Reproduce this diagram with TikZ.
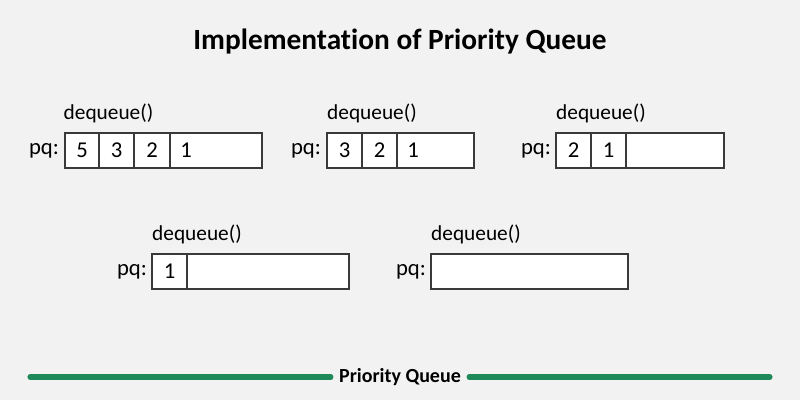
\documentclass[tikz,border=0pt]{standalone}
\usepackage{fontspec}
\setmainfont{Carlito}[Ligatures=NoCommon]
\definecolor{bg}{HTML}{F2F2F2}
\definecolor{pqgreen}{HTML}{1E8A5A}
\definecolor{edge}{HTML}{3A3A3A}
\begin{document}
\begin{tikzpicture}[x=0.75pt,y=-0.75pt,
  cellbox/.style={draw=edge,line width=0.8pt,fill=white,minimum height=26.25pt,inner sep=0pt,outer sep=0pt},
  num/.style={font=\fontsize{17}{19}\selectfont,inner sep=0pt},
  lbl/.style={font=\fontsize{17}{19}\selectfont,inner sep=0pt},
  opname/.style={font=\fontsize{16}{18}\selectfont,inner sep=0pt}]
\useasboundingbox[fill=bg] (0,0) rectangle (800,400);
\node[font=\bfseries\fontsize{22}{24}\selectfont] (title) at (400,42) {Implementation of Priority Queue};
% row 1, box 1
\node[opname] (op1) at (108.5,113) {dequeue()};
\node[lbl] (pq1) at (44,151) {pq:};
\node[cellbox,minimum width=25.5pt] (a1) at (82,150.5) {};
\node[cellbox,minimum width=26.25pt] (a2) at (116.5,150.5) {};
\node[cellbox,minimum width=27pt] (a3) at (152,150.5) {};
\node[cellbox,minimum width=69pt] (a4) at (216,150.5) {};
\node[num] (n11) at (a1) {5};
\node[num] (n12) at (a2) {3};
\node[num] (n13) at (a3) {2};
\node[num] (n14) at (186,150.5) {1};
% box 2
\node[opname] (op2) at (372,113) {dequeue()};
\node[lbl] (pq2) at (306,151) {pq:};
\node[cellbox,minimum width=26.25pt] (b1) at (344.5,150.5) {};
\node[cellbox,minimum width=26.25pt] (b2) at (379.5,150.5) {};
\node[cellbox,minimum width=57.75pt] (b3) at (435.5,150.5) {};
\node[num] (n21) at (b1) {3};
\node[num] (n22) at (b2) {2};
\node[num] (n23) at (413,150.5) {1};
% box 3
\node[opname] (op3) at (601,113) {dequeue()};
\node[lbl] (pq3) at (536,151) {pq:};
\node[cellbox,minimum width=26.25pt] (c1) at (573.5,150.5) {};
\node[cellbox,minimum width=26.25pt] (c2) at (608.5,150.5) {};
\node[cellbox,minimum width=73.5pt] (c3) at (675,150.5) {};
\node[num] (n31) at (c1) {2};
\node[num] (n32) at (c2) {1};
% box 4
\node[opname] (op4) at (197,234) {dequeue()};
\node[lbl] (pq4) at (132,272) {pq:};
\node[cellbox,minimum width=26.25pt] (d1) at (169.5,271.5) {};
\node[cellbox,minimum width=121.5pt] (d2) at (268,271.5) {};
\node[num] (n41) at (d1) {1};
% box 5
\node[opname] (op5) at (476,234) {dequeue()};
\node[lbl] (pq5) at (411,272) {pq:};
\node[cellbox,minimum width=147.75pt] (e1) at (529.5,271.5) {};
% footer
\node[font=\bfseries\fontsize{15}{17}\selectfont,inner sep=0pt] (foot) at (400,377) {Priority Queue};
\coordinate (fl) at (30,377);
\coordinate (fr) at (770,377);
\draw[pqgreen,line width=3.8pt,line cap=round] (fl) -- ([xshift=-6pt]foot.west);
\draw[pqgreen,line width=3.8pt,line cap=round] ([xshift=6pt]foot.east) -- (fr);
\end{tikzpicture}
\end{document}
